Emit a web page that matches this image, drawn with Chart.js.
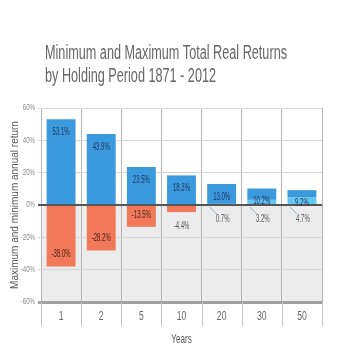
<!DOCTYPE html>
<html><head><meta charset="utf-8">
<script src="https://cdn.jsdelivr.net/npm/chart.js@4"></script>
<style>html,body{margin:0;padding:0;background:#fff}#wrap{width:360px;height:360px}</style>
</head><body><div id="wrap"><canvas id="c" width="360" height="360"></canvas></div>
<script>
const categories = ['1','2','5','10','20','30','50'];
const maxReturns = [53.1, 43.9, 23.5, 18.3, 13.0, 10.2, 9.2];
const minReturns = [-38.0, -28.2, -13.5, -4.4, 0.7, 3.2, 4.7];
const yTickValues = [60, 40, 20, 0, -20, -40, -60];
const titleLines = ['Minimum and Maximum Total Real Returns', 'by Holding Period 1871 - 2012'];
const yTitle = 'Maximum and minimum annual return';
const xTitle = 'Years';

const BLUE = '#3b9ade', ORANGE = '#f2785a', LIGHTBLUE = '#66c6f2';
const BASE = '"Liberation Sans", Arial, sans-serif';

function narrowText(ctx, text, x, y, size, sx, color, align) {
  ctx.save();
  ctx.font = size + 'px ' + BASE;
  ctx.fillStyle = color;
  ctx.textBaseline = 'middle';
  ctx.textAlign = align || 'center';
  ctx.translate(x, y); ctx.scale(sx, 1);
  ctx.fillText(text, 0, 0);
  ctx.restore();
}

const bgPlugin = {
  id: 'bg',
  beforeDraw(chart) {
    const {ctx, chartArea: a, scales: {y}} = chart;
    const z = y.getPixelForValue(0);
    ctx.save();
    ctx.fillStyle = '#ffffff'; ctx.fillRect(a.left, a.top, a.right - a.left, z - a.top);
    ctx.fillStyle = '#ececec'; ctx.fillRect(a.left, z, a.right - a.left, a.bottom - z);
    ctx.restore();
  },
  afterDraw(chart) {
    const {ctx, chartArea: a, scales: {x, y}} = chart;
    // title
    ctx.save();
    ctx.fillStyle = '#666';
    ctx.font = '20px ' + BASE;
    ctx.textBaseline = 'alphabetic';
    const w = ctx.measureText(titleLines[0]).width;
    const s = 242 / w;
    ctx.translate(45, 0); ctx.scale(s, 1);
    ctx.fillText(titleLines[0], 0, 59);
    ctx.fillText(titleLines[1], 0, 82);
    ctx.restore();
    // separators below axis
    ctx.save();
    ctx.strokeStyle = '#c4c4c4'; ctx.lineWidth = 1;
    const n = categories.length;
    const step = (a.right - a.left) / n;
    for (let i = 0; i <= n; i++) {
      const px = Math.round(a.left + i * step) + 0.5;
      ctx.beginPath(); ctx.moveTo(px, a.bottom); ctx.lineTo(px, a.bottom + 24); ctx.stroke();
    }
    ctx.restore();
    // y tick labels
    yTickValues.forEach(v => narrowText(ctx, v + '%', a.left - 6, y.getPixelForValue(v), 9, 0.68, '#888', 'right'));
    // x tick labels
    categories.forEach((c, i) => narrowText(ctx, c, x.getPixelForValue(i), a.bottom + 14, 13, 0.66, '#666', 'center'));
    // x title
    narrowText(ctx, xTitle, (a.left + a.right) / 2, 339, 13, 0.62, '#555', 'center');
  }
};

const labelPlugin = {
  id: 'labels',
  afterDatasetsDraw(chart) {
    const {ctx, scales: {y}} = chart;
    const meta = chart.getDatasetMeta(0);
    const z = y.getPixelForValue(0);
    meta.data.forEach((bar, i) => {
      const x = bar.x;
      narrowText(ctx, maxReturns[i].toFixed(1) + '%', x, y.getPixelForValue(maxReturns[i]) + 13, 10, 0.6, '#1f3560');
      const mn = minReturns[i];
      if (mn < 0) {
        const b = y.getPixelForValue(mn);
        if (b - z > 15) narrowText(ctx, mn.toFixed(1) + '%', x, b - 12, 10, 0.6, '#4a2418');
        else narrowText(ctx, mn.toFixed(1) + '%', x, b + 14, 10, 0.6, '#555');
      } else {
        ctx.save();
        ctx.strokeStyle = '#86b6cc'; ctx.lineWidth = 1;
        ctx.beginPath(); ctx.moveTo(x - 12, z + 2); ctx.lineTo(x - 5, z + 9); ctx.stroke();
        ctx.restore();
        narrowText(ctx, mn.toFixed(1) + '%', x + 1, z + 14, 10, 0.6, '#555');
      }
    });
  }
};

new Chart(document.getElementById('c'), {
  type: 'bar',
  data: {
    labels: categories,
    datasets: [
      {
        label: 'Maximum',
        data: categories.map((c, i) => [Math.max(0, minReturns[i]), maxReturns[i]]),
        backgroundColor: BLUE,
        borderWidth: 0
      },
      {
        label: 'Minimum',
        data: categories.map((c, i) => [0, minReturns[i]]),
        backgroundColor: minReturns.map(v => v < 0 ? ORANGE : LIGHTBLUE),
        borderWidth: 0
      }
    ]
  },
  options: {
    responsive: false,
    animation: false,
    devicePixelRatio: 1,
    layout: {padding: {top: 108, right: 38, left: 0, bottom: 0}},
    datasets: {bar: {grouped: false, categoryPercentage: 1, barPercentage: 0.72}},
    plugins: {legend: {display: false}, tooltip: {enabled: false}, title: {display: false}},
    scales: {
      x: {
        offset: true,
        grid: {offset: true, color: '#b5b5b5', drawTicks: false},
        border: {display: false},
        ticks: {display: false},
        afterFit(s) { s.height = 58; }
      },
      y: {
        min: -60, max: 60,
        afterBuildTicks(s) { s.ticks = yTickValues.map(v => ({value: v})); },
        grid: {
          drawTicks: true, tickLength: 3,
          color: ctx => ctx.tick && ctx.tick.value === 0 ? '#555' : (ctx.tick && ctx.tick.value === -60 ? '#a0a0a0' : '#d6d6d6'),
          lineWidth: ctx => ctx.tick && ctx.tick.value === 0 ? 2 : (ctx.tick && ctx.tick.value === -60 ? 3 : 1)
        },
        border: {display: false},
        ticks: {display: false},
        title: {display: true, text: yTitle, color: '#555', font: {family: BASE, size: 10}, padding: {top: 9, bottom: 0}},
        afterFit(s) { s.width = 41; }
      }
    }
  },
  plugins: [bgPlugin, labelPlugin]
});
</script>
</body></html>
